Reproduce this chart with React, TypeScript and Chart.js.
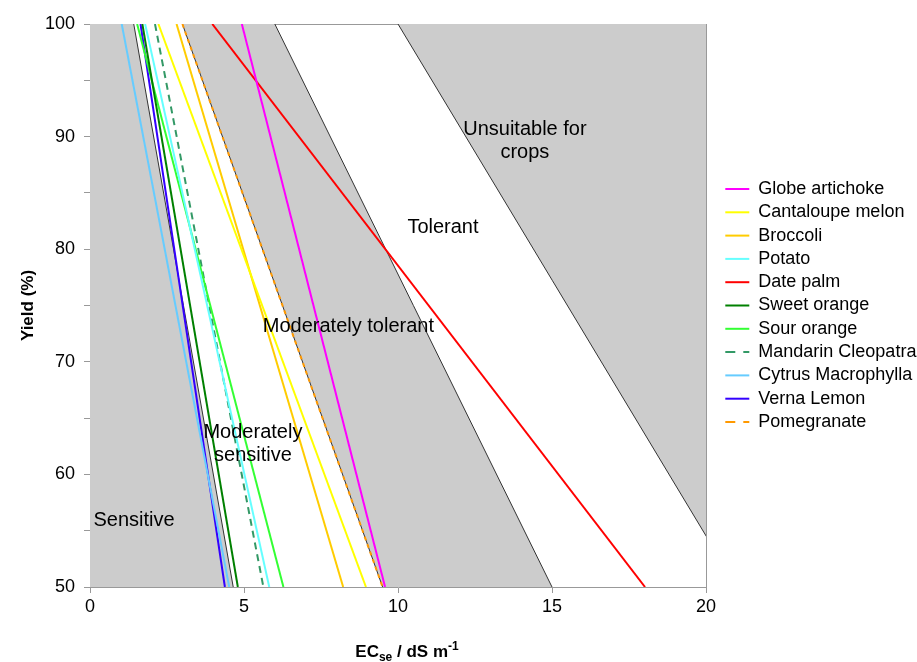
import React, { useEffect, useRef } from 'react';
import { Chart, registerables } from 'chart.js';

Chart.register(...registerables);

// ---- Data ----
const cropNames = [
  'Globe artichoke',
  'Cantaloupe melon',
  'Broccoli',
  'Potato',
  'Date palm',
  'Sweet orange',
  'Sour orange',
  'Mandarin Cleopatra',
  'Cytrus Macrophylla',
  'Verna Lemon',
  'Pomegranate',
];
// EC (dS/m) at which yield is 100 % and 50 %
const ecAtFullYield = [4.93, 2.22, 2.81, 1.79, 3.97, 1.7, 1.53, 2.11, 1.03, 1.64, 3.0];
const ecAtHalfYield = [9.58, 8.96, 8.22, 5.82, 18.02, 4.8, 6.28, 5.63, 4.52, 4.38, 9.5];
const yieldLevels = [100, 50];

const cropColors = [
  '#ff00ff', '#ffff00', '#ffcc00', '#66ffff', '#ff0000', '#008000',
  '#33ff33', '#339966', '#66ccff', '#3300ff', '#ff9900',
];
const cropDash: number[][] = [[], [], [], [], [], [], [], [7, 5], [], [], [4, 4]];
const legendDash: number[][] = [[], [], [], [], [], [], [], [10, 8], [], [], [10, 8]];

// Tolerance class boundaries: EC at 100 % and at 50 % yield
const boundaryAtFullYield = [1.42, 3, 6, 10];
const boundaryAtHalfYield = [4.65, 9.5, 15, 21];

// Zone labels
const zoneLabels = ['Sensitive', 'Moderately\nsensitive', 'Moderately tolerant', 'Tolerant', 'Unsuitable for\ncrops'];
const zoneLabelX = [1.43, 5.29, 8.39, 11.46, 14.12];
const zoneLabelY = [55.95, 62.7, 73.1, 81.9, 89.6];

const xTicks = [0, 5, 10, 15, 20];
const yTicks = [50, 60, 70, 80, 90, 100];

const FONT = '"Liberation Sans", Arial, sans-serif';
const GRAY = '#cccccc';
const AXIS = '#999999';

const zonePlugin = {
  id: 'zoneText',
  afterDatasetsDraw(chart: any) {
    const { ctx, scales } = chart;
    const x = scales.x;
    const y = scales.y;
    ctx.save();
    ctx.font = `20px ${FONT}`;
    ctx.fillStyle = '#000';
    ctx.textAlign = 'center';
    ctx.textBaseline = 'middle';
    zoneLabels.forEach((t, i) => {
      const lines = t.split('\n');
      const cx = x.getPixelForValue(zoneLabelX[i]);
      const cy = y.getPixelForValue(zoneLabelY[i]);
      lines.forEach((ln, j) => {
        ctx.fillText(ln, cx, cy + (j - (lines.length - 1) / 2) * 23);
      });
    });
    ctx.restore();
  },
  afterDraw(chart: any) {
    const { ctx, chartArea } = chart;
    const parts = [
      { t: 'EC', size: 17, dy: 0 },
      { t: 'se', size: 12, dy: 4 },
      { t: ' / dS m', size: 17, dy: 0 },
      { t: '-1', size: 12, dy: -7 },
    ];
    ctx.save();
    ctx.fillStyle = '#000';
    ctx.textBaseline = 'alphabetic';
    ctx.textAlign = 'left';
    let total = 0;
    const widths = parts.map((p) => {
      ctx.font = `bold ${p.size}px ${FONT}`;
      const w = ctx.measureText(p.t).width;
      total += w;
      return w;
    });
    let cx = (chartArea.left + chartArea.right) / 2 + 9 - total / 2;
    const base = 657;
    parts.forEach((p, i) => {
      ctx.font = `bold ${p.size}px ${FONT}`;
      ctx.fillText(p.t, cx, base + p.dy);
      cx += widths[i];
    });
    ctx.restore();
  },
};

export default function App() {
  const ref = useRef<HTMLCanvasElement>(null);

  useEffect(() => {
    if (!ref.current) return;
    const line = (a: number, b: number) => [
      { x: a, y: yieldLevels[0] },
      { x: b, y: yieldLevels[1] },
    ];

    const cropSets = cropNames.map((name, i) => ({
      label: name,
      data: line(ecAtFullYield[i], ecAtHalfYield[i]),
      borderColor: cropColors[i],
      backgroundColor: cropColors[i],
      borderWidth: 2,
      borderDash: cropDash[i],
      pointRadius: 0,
      fill: false,
    }));

    const boundarySets = boundaryAtFullYield.map((v, i) => ({
      label: 'b' + i,
      data: line(v, boundaryAtHalfYield[i]),
      borderColor: '#333333',
      borderWidth: 1,
      pointRadius: 0,
      fill: false,
    }));

    const fillBelow = (i: number, color: string) => ({
      label: 'f' + i,
      data: [
        { x: 0, y: yieldLevels[0] },
        { x: boundaryAtFullYield[i], y: yieldLevels[0] },
        { x: boundaryAtHalfYield[i], y: yieldLevels[1] },
      ],
      borderColor: 'transparent',
      borderWidth: 0,
      backgroundColor: color,
      pointRadius: 0,
      fill: 'start',
    });

    const unsuitable = {
      label: 'f3',
      data: line(boundaryAtFullYield[3], boundaryAtHalfYield[3]),
      borderColor: 'transparent',
      borderWidth: 0,
      backgroundColor: GRAY,
      pointRadius: 0,
      fill: 'end',
    };

    const datasets: any[] = [
      ...cropSets,
      ...boundarySets,
      unsuitable,
      fillBelow(0, GRAY),
      fillBelow(1, '#ffffff'),
      fillBelow(2, GRAY),
    ];

    const baseGen = (Chart as any).defaults.plugins.legend.labels.generateLabels;

    const chart = new Chart(ref.current, {
      type: 'line',
      data: { datasets },
      plugins: [zonePlugin],
      options: {
        responsive: false,
        animation: false,
        devicePixelRatio: 1,
        layout: { padding: { top: 24, left: 0, right: 0, bottom: 0 } },
        font: { family: FONT },
        plugins: {
          tooltip: { enabled: false },
          legend: {
            position: 'right',
            fullSize: false,
            maxWidth: 197,
            labels: {
              generateLabels: (c: any) =>
                baseGen(c)
                  .filter((item: any) => item.datasetIndex < cropNames.length)
                  .map((item: any) => ({
                    ...item,
                    strokeStyle: cropColors[item.datasetIndex],
                    fillStyle: cropColors[item.datasetIndex],
                    lineWidth: 2,
                    lineDash: legendDash[item.datasetIndex],
                    pointStyle: 'line',
                  })),
              usePointStyle: true,
              pointStyle: 'line',
              pointStyleWidth: 24,
              boxWidth: 24,
              padding: 5.3,
              color: '#000',
              font: { size: 18, family: FONT },
            },
          },
        },
        scales: {
          x: {
            type: 'linear',
            position: 'bottom',
            min: 0,
            max: 20,
            afterBuildTicks: (s: any) => {
              s.ticks = xTicks.map((v) => ({ value: v }));
            },
            afterFit: (s: any) => {
              s.height = 75;
            },
            ticks: { color: '#000', font: { size: 18, family: FONT }, padding: 3 },
            grid: { drawOnChartArea: false, drawTicks: true, tickLength: 6, color: AXIS },
            border: { color: AXIS },
            title: { display: false },
          },
          x2: {
            type: 'linear',
            position: 'top',
            min: 0,
            max: 20,
            afterFit: (s: any) => {
              s.height = 0;
            },
            ticks: { display: false },
            grid: { drawOnChartArea: false, drawTicks: false, color: AXIS },
            border: { color: AXIS },
          },
          y: {
            type: 'linear',
            position: 'left',
            min: 50,
            max: 100,
            ticks: {
              stepSize: 5,
              color: '#000',
              font: { size: 18, family: FONT },
              padding: 9,
              callback: (v: any) => (yTicks.includes(Number(v)) ? String(v) : ''),
            },
            afterFit: (s: any) => {
              s.width = 90;
            },
            grid: { drawOnChartArea: false, drawTicks: true, tickLength: 6, color: AXIS },
            border: { color: AXIS },
            title: {
              display: true,
              text: 'Yield (%)',
              color: '#000',
              font: { size: 17, weight: 'bold', family: FONT },
              padding: { top: 18, bottom: 0 },
            },
          },
          y2: {
            type: 'linear',
            position: 'right',
            min: 50,
            max: 100,
            afterFit: (s: any) => {
              s.width = 14;
            },
            ticks: { display: false },
            grid: { drawOnChartArea: false, drawTicks: false, color: AXIS },
            border: { color: AXIS },
          },
        },
      } as any,
    });
    return () => chart.destroy();
  }, []);

  return (
    <div style={{ position: 'fixed', left: 0, top: 0, width: 917, height: 662, background: '#fff' }}>
      <canvas ref={ref} width={917} height={662} style={{ display: 'block' }} />
    </div>
  );
}
